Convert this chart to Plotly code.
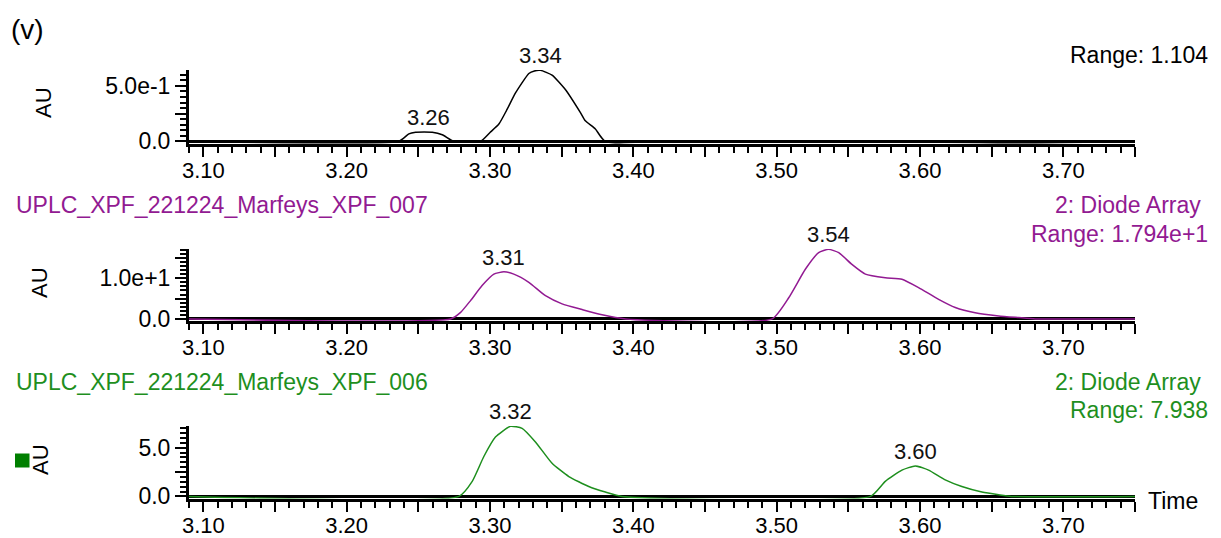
import plotly.graph_objects as go

# ---------------- data ----------------
# Panel 1 (black trace), time in min, AU
t1 = [3.09, 3.2364, 3.2434, 3.2481, 3.2540, 3.2597, 3.2667, 3.2748, 3.2934, 3.3000, 3.3062,
      3.3120, 3.3178, 3.3271, 3.3310, 3.3353, 3.3433, 3.3527, 3.3631, 3.3665, 3.3735, 3.3805, 3.75]
v1 = [0, 0, 0.068, 0.083, 0.085, 0.083, 0.060, 0, 0, 0.080, 0.156,
      0.290, 0.436, 0.612, 0.635, 0.640, 0.597, 0.465, 0.259, 0.185, 0.112, 0, 0]

# Panel 2 (purple trace, _007)
t2 = [3.09, 3.2725, 3.2795, 3.2864, 3.2945, 3.3027, 3.3097, 3.3166, 3.3271, 3.3387, 3.3503,
      3.3643, 3.3782, 3.3945, 3.4968, 3.5084, 3.5200, 3.5293, 3.5363, 3.5433, 3.5525, 3.5619,
      3.5758, 3.5874, 3.5990, 3.6130, 3.6246, 3.6385, 3.6549, 3.6688, 3.6804, 3.75]
v2 = [0, 0, 1.6, 4.5, 8.2, 11.0, 11.6, 11.0, 9.0, 5.7, 3.7,
      2.3, 1.0, 0, 0, 5.2, 12.2, 16.3, 17.1, 16.3, 13.4, 11.0,
      10.1, 9.75, 7.7, 4.8, 2.8, 1.5, 0.74, 0.33, 0, 0]

# Panel 3 (green trace, _006)
t3 = [3.09, 3.2783, 3.2876, 3.2957, 3.3038, 3.3142, 3.3224, 3.3317, 3.3433, 3.3550, 3.3689,
      3.3805, 3.3922, 3.5654, 3.5758, 3.5874, 3.5967, 3.6060, 3.6176, 3.6292, 3.6432, 3.6549,
      3.6637, 3.75]
v3 = [0, 0, 1.55, 4.1, 6.1, 7.2, 7.0, 5.6, 3.4, 2.04, 1.02,
      0.45, 0, 0, 1.55, 2.7, 3.13, 2.7, 1.7, 1.02, 0.45, 0.17,
      0, 0]

# peak labels (time label, position in min)
pk1_text = ["3.26", "3.34"]
pk1_t = [3.2574, 3.3353]
pk2_text = ["3.31", "3.54"]
pk2_t = [3.3097, 3.5363]
pk3_text = ["3.32", "3.60"]
pk3_t = [3.3142, 3.5967]

# x tick labels
x_tickvals = [3.10, 3.15, 3.20, 3.25, 3.30, 3.35, 3.40, 3.45, 3.50, 3.55, 3.60, 3.65, 3.70, 3.75]
x_ticktext = ["3.10", "", "3.20", "", "3.30", "", "3.40", "", "3.50", "", "3.60", "", "3.70", ""]

y1_tickvals = [0, 0.25, 0.5]
y1_ticktext = ["0.0", "", "5.0e-1"]
y2_tickvals = [0, 5, 10, 15]
y2_ticktext = ["0.0", "", "1.0e+1", ""]
y3_tickvals = [0, 2.5, 5.0]
y3_ticktext = ["0.0", "", "5.0"]

header2 = "UPLC_XPF_221224_Marfeys_XPF_007"
header3 = "UPLC_XPF_221224_Marfeys_XPF_006"
range1 = "Range: 1.104"
range2 = "Range: 1.794e+1"
range3 = "Range: 7.938"
detector = "2: Diode Array"

# ---------------- styling ----------------
W, H = 1221, 538
FONT = "Liberation Sans, Arial, sans-serif"
BLACK = "#000000"
PURPLE = "#921A92"
GREEN = "#1E8F1E"
SQ_GREEN = "#007F00"

def px2x(p):
    return p / W

def py2y(p):
    return 1 - p / H

x_dom = [px2x(189), px2x(1135)]
# (top pixel, bottom pixel) of each panel
panels = [(70, 143.5), (249, 321), (426, 498.5)]

fig = go.Figure()
series = [(t1, v1, BLACK), (t2, v2, PURPLE), (t3, v3, GREEN)]
for i, (t, v, c) in enumerate(series):
    sfx = "" if i == 0 else str(i + 1)
    fig.add_trace(go.Scatter(x=t, y=v, mode="lines",
                             line=dict(color=c, width=1.5, shape="spline", smoothing=0.5),
                             xaxis="x" + sfx, yaxis="y" + sfx, showlegend=False,
                             hoverinfo="skip"))

ytick_sets = [(y1_tickvals, y1_ticktext, 0.05), (y2_tickvals, y2_ticktext, 1.0),
              (y3_tickvals, y3_ticktext, 0.5)]
layout = dict(width=W, height=H,
              margin=dict(l=0, r=0, t=0, b=0, pad=0, autoexpand=False),
              paper_bgcolor="white", plot_bgcolor="white", showlegend=False,
              font=dict(family=FONT, color=BLACK, size=22))

for i, (t, v, c) in enumerate(series):
    sfx = "" if i == 0 else str(i + 1)
    top_px, bot_px = panels[i]
    vmax = max(v)
    tv, tt, ydt = ytick_sets[i]
    layout["xaxis" + sfx] = dict(
        domain=x_dom, anchor="y" + sfx, range=[3.09, 3.75],
        showline=True, linecolor=BLACK, linewidth=3, showgrid=False, zeroline=False,
        ticks="outside", ticklen=10, tickwidth=2, tickcolor=BLACK,
        tickvals=x_tickvals, ticktext=x_ticktext, ticklabelstandoff=-5,
        tickfont=dict(family=FONT, size=22, color=BLACK),
        minor=dict(ticks="outside", dtick=0.01, tick0=3.09, ticklen=6, tickwidth=1.5,
                   tickcolor=BLACK, showgrid=False),
        fixedrange=True)
    layout["yaxis" + sfx] = dict(
        domain=[py2y(bot_px), py2y(top_px)], anchor="x" + sfx,
        range=[-0.03 * vmax, vmax * 1.005],
        showline=True, linecolor=BLACK, linewidth=3, showgrid=False,
        zeroline=True, zerolinecolor=BLACK, zerolinewidth=3,
        ticks="outside", ticklen=11, tickwidth=2, tickcolor=BLACK,
        tickvals=tv, ticktext=tt,
        tickfont=dict(family=FONT, size=23, color=BLACK),
        minor=dict(ticks="outside", dtick=ydt, tick0=0, ticklen=6, tickwidth=1.5,
                   tickcolor=BLACK, showgrid=False),
        fixedrange=True)

fig.update_layout(**layout)

ann = []

def interp(t, v, x):
    for k in range(len(t) - 1):
        if t[k] <= x <= t[k + 1]:
            f = (x - t[k]) / (t[k + 1] - t[k]) if t[k + 1] > t[k] else 0
            return v[k] + f * (v[k + 1] - v[k])
    return 0

for i, (texts, times) in enumerate([(pk1_text, pk1_t), (pk2_text, pk2_t), (pk3_text, pk3_t)]):
    sfx = "" if i == 0 else str(i + 1)
    t, v, c = series[i]
    for txt, tm in zip(texts, times):
        ann.append(dict(x=tm, y=interp(t, v, tm), xref="x" + sfx, yref="y" + sfx,
                        text=txt, showarrow=False, xanchor="center", yanchor="bottom",
                        yshift=0, font=dict(family=FONT, size=22, color="#111111")))

def ptext(txt, xp, yp, anchor, color, size=23, **kw):
    ann.append(dict(x=px2x(xp), y=py2y(yp), xref="paper", yref="paper", text=txt,
                    showarrow=False, xanchor=anchor, yanchor="middle",
                    font=dict(family=FONT, size=size, color=color), **kw))

ptext("(v)", 9, 30, "left", BLACK, size=28)
ptext(range1, 1210, 55, "right", BLACK)
ptext(header2, 14, 205, "left", PURPLE)
ptext(detector, 1203, 205, "right", PURPLE)
ptext(range2, 1210, 234, "right", PURPLE)
ptext(header3, 14, 382, "left", GREEN)
ptext(detector, 1203, 382, "right", GREEN)
ptext(range3, 1210, 410, "right", GREEN)
ptext("Time", 1146, 501, "left", BLACK)

au_pos = [(43, 103), (39, 283), (40, 460)]
for (xp, yp) in au_pos:
    ptext("AU", xp, yp, "center", BLACK, size=22, textangle=-90)

fig.update_layout(annotations=ann)

fig.add_shape(type="rect", xref="paper", yref="paper",
              x0=px2x(15), x1=px2x(29.5), y0=py2y(467.5), y1=py2y(453.5),
              fillcolor=SQ_GREEN, line=dict(width=0))

fig.write_html("out.html")
